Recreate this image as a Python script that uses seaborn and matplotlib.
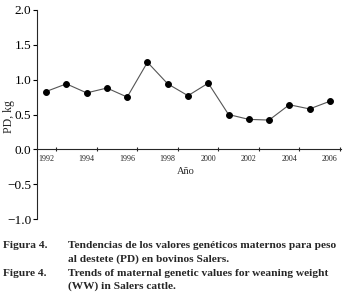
import pandas as pd
import seaborn as sns
import matplotlib.pyplot as plt
from matplotlib.ticker import FixedLocator

# Data
years = [1992, 1993, 1994, 1995, 1996, 1997, 1998, 1999, 2000, 2001, 2002, 2003, 2004, 2005, 2006]
pd_kg = [0.83, 0.94, 0.81, 0.88, 0.75, 1.25, 0.94, 0.77, 0.95, 0.50, 0.43, 0.42, 0.64, 0.58, 0.69]
year_labels = [1992, 1994, 1996, 1998, 2000, 2002, 2004, 2006]
y_ticks = [-1.0, -0.5, 0.0, 0.5, 1.0, 1.5, 2.0]

df = pd.DataFrame({"year": years, "pd": pd_kg})

sns.set_style("ticks")
plt.rcParams["font.family"] = ["Liberation Serif", "DejaVu Serif"]

fig = plt.figure(figsize=(3.49, 3.06), dpi=100)
ax = fig.add_axes([37 / 349, 1 - 219 / 306, 304 / 349, 209 / 306])

sns.lineplot(data=df, x="year", y="pd", ax=ax, color="#555555", linewidth=0.8,
             marker="o", markersize=4.2, markerfacecolor="black", markeredgecolor="black")

ax.set_xlim(1991.55, 2006.55)
ax.set_ylim(-1.0, 2.0)
ax.set_yticks(y_ticks)
ax.set_yticklabels([f"{v:.1f}".replace("-", "\u2212") for v in y_ticks])
ax.tick_params(axis="y", length=3, width=0.8, pad=1, colors="black", labelsize=9.5)

# labels at even years, tick marks between years
ax.set_xticks(year_labels)
ax.set_xticklabels([str(y) for y in year_labels])
ax.tick_params(axis="x", which="major", length=0, pad=4, labelsize=5.8)
ax.xaxis.set_minor_locator(FixedLocator([y + 0.5 for y in year_labels]))
ax.tick_params(axis="x", which="minor", length=3, width=0.8, direction="inout")

ax.spines["bottom"].set_position(("data", 0))
ax.spines["top"].set_visible(False)
ax.spines["right"].set_visible(False)
ax.spines["left"].set_linewidth(0.8)
ax.spines["bottom"].set_linewidth(0.8)

ax.set_xlabel("")
ax.set_ylabel("")
fig.text(9 / 349, 1 - 117 / 306, "PD, kg", fontsize=8.5, rotation=90, ha="center", va="center")
fig.text(186 / 349, 1 - 172 / 306, "Año", fontsize=7.5, ha="center", va="center")

cap = dict(fontsize=8.2, fontweight="bold", ha="left", va="center")
fig.text(3 / 349, 1 - 246 / 306, "Figura 4.", **cap)
fig.text(68 / 349, 1 - 246 / 306, "Tendencias de los valores genéticos maternos para peso", **cap)
fig.text(68 / 349, 1 - 259 / 306, "al destete (PD) en bovinos Salers.", **cap)
fig.text(3 / 349, 1 - 273 / 306, "Figure 4.", **cap)
fig.text(68 / 349, 1 - 273 / 306, "Trends of maternal genetic values for weaning weight", **cap)
fig.text(68 / 349, 1 - 286 / 306, "(WW) in Salers cattle.", **cap)

fig.savefig("out.png", dpi=100)
